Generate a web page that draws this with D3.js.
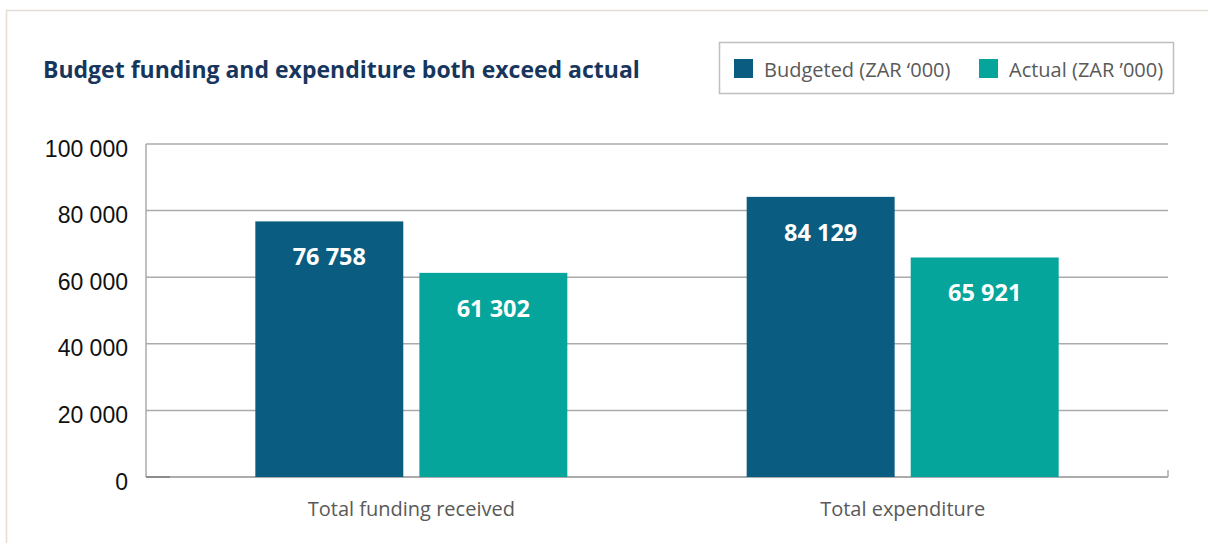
<!DOCTYPE html>
<html>
<head>
<meta charset="utf-8">
<script src="https://cdn.jsdelivr.net/npm/d3@7"></script>
<style>
  body { margin: 0; background: white; }
  svg { display: block; }
</style>
</head>
<body>
<div class="middle"></div>
<script>
const categories = ['Total funding received', 'Total expenditure']
const seriesNames = ['Budgeted (ZAR \u2018000)', 'Actual (ZAR \u2019000)']
const budgeted = [76758, 84129]
const actual = [61302, 65921]
const yTicks = [0, 20000, 40000, 60000, 80000, 100000]
const colors = ['#0a5c80', '#05a59b']

const fmt = function (v) { return d3.format(',')(v).replace(/,/g, ' ') }

const svg = d3.select('.middle')
  .append('svg')
  .attr('width', 1208)
  .attr('height', 543)

// outer frame
svg.append('rect')
  .attr('x', 6.5).attr('y', 10.5)
  .attr('width', 1220).attr('height', 560)
  .style('fill', 'none')
  .style('stroke', '#e6ddd4')
  .style('stroke-width', '1.5px')

svg.append('text')
  .attr('x', 43).attr('y', 78)
  .text('Budget funding and expenditure both exceed actual')
  .style('font-family', 'Open Sans')
  .style('font-weight', 'bold')
  .style('font-size', '23px')
  .style('fill', '#17365d')

const plotLeft = 146, plotRight = 1168, plotTop = 144, plotBottom = 477

const x = d3.scaleBand().domain(categories).range([plotLeft, plotRight]).paddingOuter(0.04)
const x1 = d3.scaleBand().domain([0, 1]).range([-156, 156]).paddingInner(0.098)
const y = d3.scaleLinear().domain([0, 100000]).range([plotBottom, plotTop])

// gridlines
svg.append('g')
  .selectAll('line')
  .data(yTicks.slice(1))
  .enter()
  .append('line')
    .attr('x1', plotLeft).attr('x2', plotRight)
    .attr('y1', function (d) { return y(d) }).attr('y2', function (d) { return y(d) })
    .style('stroke', '#ababab')
    .style('stroke-width', '1.5px')

// y tick labels
svg.append('g')
  .selectAll('text')
  .data(yTicks)
  .enter()
  .append('text')
    .attr('x', 128)
    .attr('y', function (d) { return y(d) + 12.5 })
    .attr('text-anchor', 'end')
    .text(fmt)
    .style('font-family', 'Liberation Sans')
    .style('font-size', '23px')
    .style('fill', '#111')

// axes lines
svg.append('line')
  .attr('x1', plotLeft).attr('x2', plotLeft).attr('y1', plotTop).attr('y2', plotBottom)
  .style('stroke', '#ababab').style('stroke-width', '1.5px')
svg.append('line')
  .attr('x1', plotLeft).attr('x2', plotRight).attr('y1', plotBottom).attr('y2', plotBottom)
  .style('stroke', '#ababab').style('stroke-width', '2px')
svg.append('line')
  .attr('x1', plotLeft).attr('x2', 170).attr('y1', plotBottom).attr('y2', plotBottom)
  .style('stroke', '#8c8c8c').style('stroke-width', '2px')
svg.append('line')
  .attr('x1', plotRight).attr('x2', plotRight).attr('y1', plotBottom - 7).attr('y2', plotBottom)
  .style('stroke', '#ababab').style('stroke-width', '1.5px')

const rows = categories.map(function (c, i) {
  return { cat: c, values: [budgeted[i], actual[i]] }
})

const groups = svg.append('g')
  .selectAll('g')
  .data(rows)
  .enter()
  .append('g')
  .attr('transform', function (d) { return 'translate(' + (x(d.cat) + x.bandwidth() / 2) + ',0)' })

groups.selectAll('rect')
  .data(function (d) { return d.values })
  .enter()
  .append('rect')
    .attr('x', function (d, i) { return x1(i) })
    .attr('y', function (d) { return y(d) })
    .attr('width', x1.bandwidth())
    .attr('height', function (d) { return plotBottom - y(d) })
    .style('fill', function (d, i) { return colors[i] })

groups.selectAll('text.val')
  .data(function (d) { return d.values })
  .enter()
  .append('text')
    .attr('class', 'val')
    .attr('x', function (d, i) { return x1(i) + x1.bandwidth() / 2 })
    .attr('y', function (d) { return y(d) + 44 })
    .attr('text-anchor', 'middle')
    .text(fmt)
    .style('font-family', 'Open Sans')
    .style('font-weight', 'bold')
    .style('font-size', '23.5px')
    .style('fill', 'white')

groups.append('text')
  .attr('x', 0)
  .attr('y', 516)
  .attr('text-anchor', 'middle')
  .text(function (d) { return d.cat })
  .style('font-family', 'Open Sans')
  .style('font-size', '20px')
  .style('fill', '#595959')

// legend
const legend = svg.append('g')
legend.append('rect')
  .attr('x', 719.5).attr('y', 42.5)
  .attr('width', 454).attr('height', 51)
  .style('fill', 'white')
  .style('stroke', '#bfbfbf')
  .style('stroke-width', '1.5px')

const legendX = [734, 979]
seriesNames.forEach(function (name, i) {
  legend.append('rect')
    .attr('x', legendX[i]).attr('y', 59)
    .attr('width', 19).attr('height', 19)
    .style('fill', colors[i])
  legend.append('text')
    .attr('x', legendX[i] + 30).attr('y', 77)
    .text(name)
    .style('font-family', 'Open Sans')
    .style('font-size', '20px')
    .style('fill', '#595959')
})
</script>
</body>
</html>
